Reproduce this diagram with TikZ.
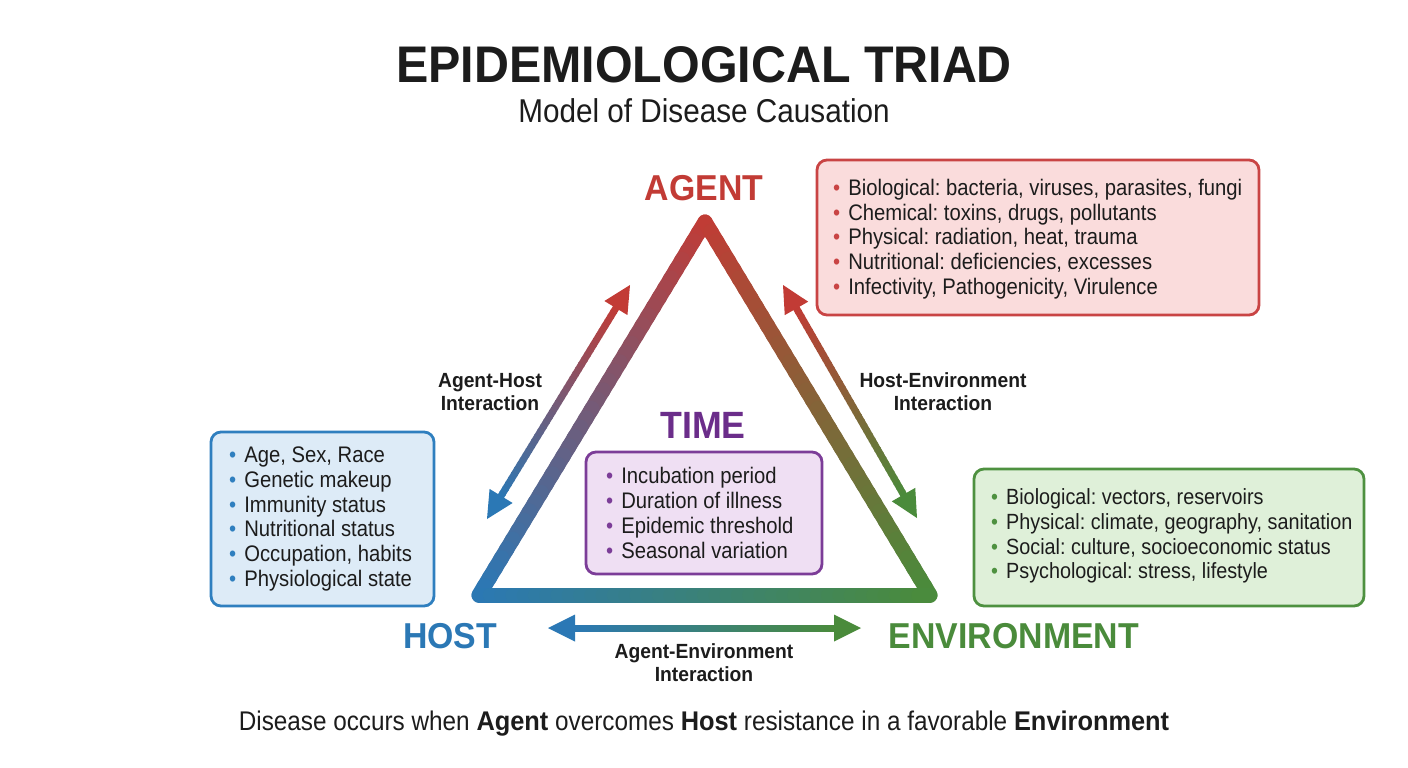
\documentclass[tikz,border=0pt]{standalone}
\usepackage{fontspec}
\setmainfont{Liberation Sans}[UprightFeatures={FakeStretch=0.9}, BoldFeatures={FakeStretch=0.94}]
\usetikzlibrary{calc}
\definecolor{agentred}{HTML}{C23B35}
\definecolor{hostblue}{HTML}{2B78B5}
\definecolor{envgreen}{HTML}{4A8B3B}
\definecolor{timepurple}{HTML}{6B2D8A}
\definecolor{textdark}{HTML}{1C1C1C}
\definecolor{agentfill}{HTML}{FADCDC}
\definecolor{hostfill}{HTML}{DDEBF7}
\definecolor{timefill}{HTML}{EFDFF3}
\definecolor{envfill}{HTML}{DFF0D9}
\definecolor{agentline}{HTML}{C94444}
\definecolor{hostline}{HTML}{2F7FBF}
\definecolor{timeline}{HTML}{7C3D98}
\definecolor{envline}{HTML}{4E9140}
\newcommand\lbul[1]{\textcolor{#1}{\textbullet}\hspace{8pt}}
% gradient segment: from, to, colour from, colour to, width, cap
\newcommand\gradseg[6]{%
  \foreach \k in {1,...,40}{%
    \pgfmathsetmacro\ta{(\k-1)/40}%
    \pgfmathsetmacro\tb{min(1,\k/40+0.006)}%
    \pgfmathsetmacro\pc{100-100*(\k-0.5)/40}%
    \draw[line width=#5, line cap=#6, color=#3!\pc!#4] ($(#1)!\ta!(#2)$) -- ($(#1)!\tb!(#2)$);
  }}
% arrow head: tip, other end, colour, name
\newcommand\ahead[4]{%
  \coordinate (#4b) at ($(#1)!27pt!(#2)$);
  \fill[#3] (#1) -- ($(#4b)!13.5pt!90:(#1)$) -- ($(#4b)!13.5pt!-90:(#1)$) -- cycle;}
\begin{document}
\frenchspacing
\begin{tikzpicture}[x=1pt,y=-1pt,
  lbl/.style={anchor=base, inner sep=0pt, font=\fontsize{36}{40}\selectfont\bfseries},
  inter/.style={anchor=base, inner sep=0pt, font=\fontsize{20.5}{24}\selectfont\bfseries, text=textdark},
  listbox/.style={draw, rounded corners=10pt, line width=2.8pt, inner sep=0pt},
  listtext/.style={anchor=west, inner sep=0pt, align=left, text=textdark, font=\fontsize{22.5}{24.8}\selectfont}]
\useasboundingbox[fill=white] (0,0) rectangle (1408,768);

% titles
\node[anchor=base, inner sep=0pt, text=textdark, font=\fontsize{51.5}{56}\selectfont\bfseries] (title) at (704,82) {EPIDEMIOLOGICAL TRIAD};
\node[anchor=base, inner sep=0pt, text=textdark, font=\fontsize{33}{38}\selectfont] (subtitle) at (704,122) {Model of Disease Causation};

% triangle
\coordinate (A) at (705,222);
\coordinate (H) at (479,595);
\coordinate (E) at (930,595);
\gradseg{A}{H}{agentred}{hostblue}{15pt}{round}
\gradseg{A}{E}{agentred}{envgreen}{15pt}{round}
\gradseg{H}{E}{hostblue}{envgreen}{15pt}{round}

% vertex labels
\node[lbl, text=agentred] (agent) at (704,200) {AGENT};
\node[lbl, text=hostblue] (host) at (450,648) {HOST};
\node[lbl, text=envgreen] (env) at (1014,648) {ENVIRONMENT};
\node[anchor=base, inner sep=0pt, text=timepurple, font=\fontsize{38}{42}\selectfont\bfseries] (time) at (703,438) {TIME};

% interaction arrows
\coordinate (T1) at (630,285);
\coordinate (B1) at (487,519);
\coordinate (T2) at (783,285);
\coordinate (B2) at (917,518);
\coordinate (L3) at (548,628);
\coordinate (R3) at (861,628);
\coordinate (T1s) at ($(T1)!25pt!(B1)$);
\coordinate (B1s) at ($(B1)!25pt!(T1)$);
\coordinate (T2s) at ($(T2)!25pt!(B2)$);
\coordinate (B2s) at ($(B2)!25pt!(T2)$);
\coordinate (L3s) at ($(L3)!25pt!(R3)$);
\coordinate (R3s) at ($(R3)!25pt!(L3)$);
\gradseg{T1s}{B1s}{agentred}{hostblue}{7pt}{butt}
\gradseg{T2s}{B2s}{agentred}{envgreen}{7pt}{butt}
\gradseg{L3s}{R3s}{hostblue}{envgreen}{7pt}{butt}
\ahead{T1}{B1}{agentred}{ha}
\ahead{B1}{T1}{hostblue}{hb}
\ahead{T2}{B2}{agentred}{hc}
\ahead{B2}{T2}{envgreen}{hd}
\ahead{L3}{R3}{hostblue}{he}
\ahead{R3}{L3}{envgreen}{hf}

\node[inter] (ah1) at (490,387) {Agent-Host};
\node[inter] (ah2) at (490,410) {Interaction};
\node[inter] (he1) at (943,387) {Host-Environment};
\node[inter] (he2) at (943,410) {Interaction};
\node[inter] (ae1) at (704,658) {Agent-Environment};
\node[inter] (ae2) at (704,681) {Interaction};

% boxes
\node[listbox, draw=agentline, fill=agentfill, minimum width=442pt, minimum height=155pt] (agentbox) at (1038,237.5) {};
\node[listtext] (agenttext) at (833,239) {\lbul{agentline}Biological: bacteria, viruses, parasites, fungi\\
\lbul{agentline}Chemical: toxins, drugs, pollutants\\
\lbul{agentline}Physical: radiation, heat, trauma\\
\lbul{agentline}Nutritional: deficiencies, excesses\\
\lbul{agentline}Infectivity, Pathogenicity, Virulence};

\node[listbox, draw=hostline, fill=hostfill, minimum width=223pt, minimum height=174pt] (hostbox) at (322.5,519) {};
\node[listtext] (hosttext) at (229,519) {\lbul{hostline}Age, Sex, Race\\
\lbul{hostline}Genetic makeup\\
\lbul{hostline}Immunity status\\
\lbul{hostline}Nutritional status\\
\lbul{hostline}Occupation, habits\\
\lbul{hostline}Physiological state};

\node[listbox, draw=timeline, fill=timefill, minimum width=236pt, minimum height=122pt] (timebox) at (704,513) {};
\node[listtext] (timetext) at (606,513) {\lbul{timeline}Incubation period\\
\lbul{timeline}Duration of illness\\
\lbul{timeline}Epidemic threshold\\
\lbul{timeline}Seasonal variation};

\node[listbox, draw=envline, fill=envfill, minimum width=390pt, minimum height=137pt] (envbox) at (1169,537.5) {};
\node[listtext, font=\fontsize{22}{24.8}\selectfont] (envtext) at (991,536) {\lbul{envline}Biological: vectors, reservoirs\\
\lbul{envline}Physical: climate, geography, sanitation\\
\lbul{envline}Social: culture, socioeconomic status\\
\lbul{envline}Psychological: stress, lifestyle};

% caption
\node[anchor=base, inner sep=0pt, text=textdark, font=\fontsize{27}{31}\selectfont] (caption) at (704,730) {Disease occurs when \textbf{Agent} overcomes \textbf{Host} resistance in a favorable \textbf{Environment}};
\end{tikzpicture}
\end{document}
